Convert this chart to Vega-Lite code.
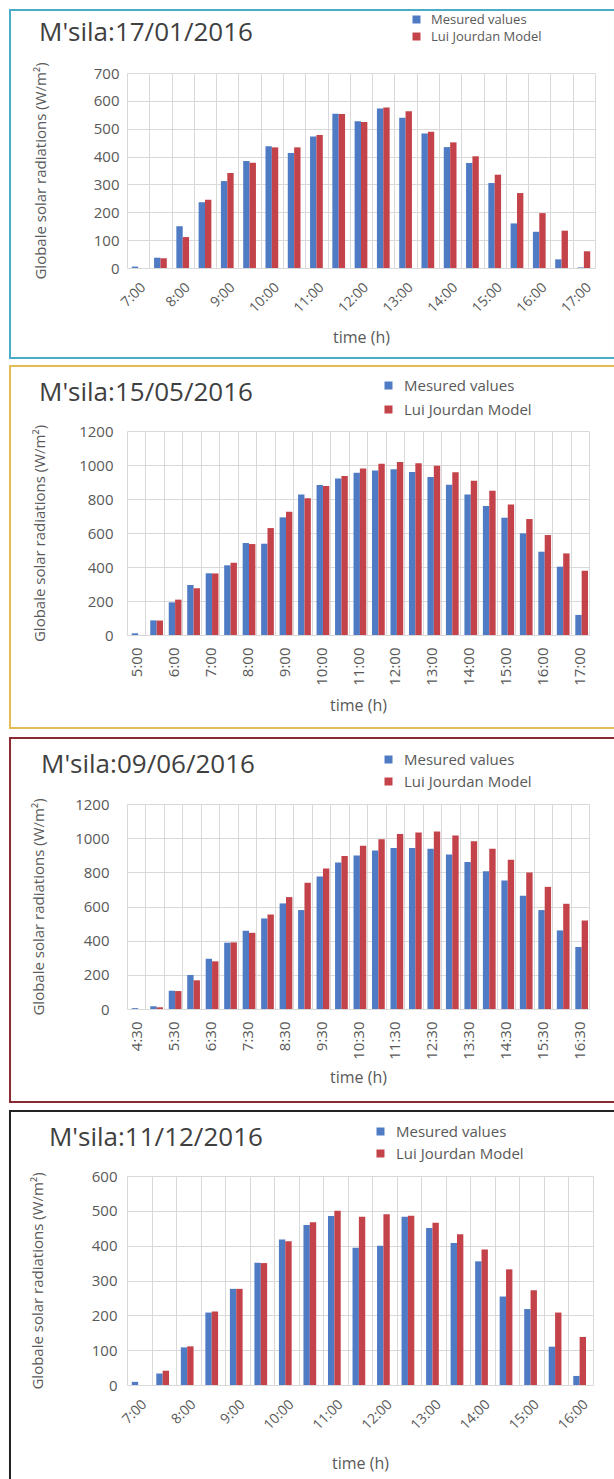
{
  "$schema": "https://vega.github.io/schema/vega-lite/v6.json",
  "background": "white",
  "padding": 8,
  "config": {
    "font": "Open Sans",
    "view": {"stroke": null},
    "title": {"font": "Open Sans", "fontWeight": "normal", "color": "#404040", "fontSize": 26, "anchor": "start", "frame": "bounds", "baseline": "alphabetic"},
    "axis": {"labelFont": "Open Sans", "titleFont": "Open Sans", "labelColor": "#595959", "titleColor": "#595959", "titleFontWeight": "normal", "gridColor": "#d9d9d9", "ticks": false, "domain": false, "labelFontSize": 14, "titleFontSize": 15, "labelOverlap": false},
    "axisX": {"titleFontSize": 16, "tickBand": "extent", "labelPadding": 12},
    "axisY": {"labelFontSize": 15},
    "legend": {"labelFont": "Open Sans", "labelColor": "#595959", "labelFontSize": 15, "symbolType": "square", "symbolSize": 64, "symbolStrokeWidth": 0, "padding": 0, "labelOffset": 8, "orient": "none", "title": null}
  },
  "datasets": {
    "p1": [
      {"t": "7:00", "measured": 5, "model": 0},
      {"t": "7:30", "measured": 37, "model": 35},
      {"t": "8:00", "measured": 150, "model": 111},
      {"t": "8:30", "measured": 236, "model": 245},
      {"t": "9:00", "measured": 312, "model": 341},
      {"t": "9:30", "measured": 384, "model": 378},
      {"t": "10:00", "measured": 437, "model": 433},
      {"t": "10:30", "measured": 413, "model": 433},
      {"t": "11:00", "measured": 472, "model": 477},
      {"t": "11:30", "measured": 554, "model": 553},
      {"t": "12:00", "measured": 527, "model": 524},
      {"t": "12:30", "measured": 573, "model": 576},
      {"t": "13:00", "measured": 539, "model": 563},
      {"t": "13:30", "measured": 483, "model": 489},
      {"t": "14:00", "measured": 434, "model": 451},
      {"t": "14:30", "measured": 377, "model": 401},
      {"t": "15:00", "measured": 305, "model": 335},
      {"t": "15:30", "measured": 160, "model": 269},
      {"t": "16:00", "measured": 130, "model": 197},
      {"t": "16:30", "measured": 31, "model": 134},
      {"t": "17:00", "measured": 2, "model": 60}
    ],
    "p2": [
      {"t": "5:00", "measured": 10, "model": 0},
      {"t": "5:30", "measured": 86, "model": 85},
      {"t": "6:00", "measured": 192, "model": 208},
      {"t": "6:30", "measured": 294, "model": 275},
      {"t": "7:00", "measured": 363, "model": 362},
      {"t": "7:30", "measured": 410, "model": 425},
      {"t": "8:00", "measured": 541, "model": 535},
      {"t": "8:30", "measured": 537, "model": 629},
      {"t": "9:00", "measured": 692, "model": 725},
      {"t": "9:30", "measured": 827, "model": 804},
      {"t": "10:00", "measured": 882, "model": 877},
      {"t": "10:30", "measured": 921, "model": 935},
      {"t": "11:00", "measured": 955, "model": 980},
      {"t": "11:30", "measured": 967, "model": 1008},
      {"t": "12:00", "measured": 975, "model": 1018},
      {"t": "12:30", "measured": 959, "model": 1010},
      {"t": "13:00", "measured": 929, "model": 996},
      {"t": "13:30", "measured": 884, "model": 957},
      {"t": "14:00", "measured": 827, "model": 908},
      {"t": "14:30", "measured": 759, "model": 849},
      {"t": "15:00", "measured": 690, "model": 767},
      {"t": "15:30", "measured": 598, "model": 682},
      {"t": "16:00", "measured": 490, "model": 588},
      {"t": "16:30", "measured": 402, "model": 480},
      {"t": "17:00", "measured": 118, "model": 378}
    ],
    "p3": [
      {"t": "4:30", "measured": 5, "model": 0},
      {"t": "5:00", "measured": 16, "model": 10},
      {"t": "5:30", "measured": 107, "model": 105},
      {"t": "6:00", "measured": 199, "model": 168},
      {"t": "6:30", "measured": 294, "model": 279},
      {"t": "7:00", "measured": 388, "model": 390},
      {"t": "7:30", "measured": 458, "model": 446},
      {"t": "8:00", "measured": 530, "model": 553},
      {"t": "8:30", "measured": 618, "model": 655},
      {"t": "9:00", "measured": 579, "model": 739},
      {"t": "9:30", "measured": 776, "model": 823},
      {"t": "10:00", "measured": 858, "model": 895},
      {"t": "10:30", "measured": 899, "model": 955},
      {"t": "11:00", "measured": 928, "model": 994},
      {"t": "11:30", "measured": 942, "model": 1025},
      {"t": "12:00", "measured": 943, "model": 1033},
      {"t": "12:30", "measured": 938, "model": 1039},
      {"t": "13:00", "measured": 905, "model": 1016},
      {"t": "13:30", "measured": 860, "model": 982},
      {"t": "14:00", "measured": 807, "model": 938},
      {"t": "14:30", "measured": 752, "model": 873},
      {"t": "15:00", "measured": 663, "model": 799},
      {"t": "15:30", "measured": 579, "model": 715},
      {"t": "16:00", "measured": 460, "model": 616},
      {"t": "16:30", "measured": 363, "model": 518}
    ],
    "p4": [
      {"t": "7:00", "measured": 9, "model": 0},
      {"t": "7:30", "measured": 33, "model": 41},
      {"t": "8:00", "measured": 108, "model": 111},
      {"t": "8:30", "measured": 208, "model": 211},
      {"t": "9:00", "measured": 276, "model": 276},
      {"t": "9:30", "measured": 351, "model": 350},
      {"t": "10:00", "measured": 418, "model": 413},
      {"t": "10:30", "measured": 459, "model": 467},
      {"t": "11:00", "measured": 485, "model": 500},
      {"t": "11:30", "measured": 394, "model": 483},
      {"t": "12:00", "measured": 400, "model": 490},
      {"t": "12:30", "measured": 483, "model": 486},
      {"t": "13:00", "measured": 451, "model": 466},
      {"t": "13:30", "measured": 408, "model": 433},
      {"t": "14:00", "measured": 355, "model": 389},
      {"t": "14:30", "measured": 254, "model": 332},
      {"t": "15:00", "measured": 218, "model": 272},
      {"t": "15:30", "measured": 110, "model": 208},
      {"t": "16:00", "measured": 26, "model": 138}
    ]
  },
  "resolve": {"scale": {"color": "independent"}},
  "spacing": 6,
  "vconcat": [
    {
      "width": 468, "height": 195,
      "title": {"text": "M'sila:17/01/2016", "offset": -37, "dx": 30},
      "resolve": {"scale": {"x": "independent", "y": "independent"}},
      "layer": [
        {
          "data": {"values": [{}]},
          "mark": {"type": "rect", "fillOpacity": 0, "stroke": "#4bacc6", "strokeWidth": 2, "clip": false},
          "encoding": {
            "x": {"datum": -0.25, "type": "quantitative", "scale": {"domain": [0, 1], "nice": false, "zero": false}, "axis": null},
            "x2": {"datum": 1.0427},
            "y": {"datum": -0.4615, "type": "quantitative", "scale": {"domain": [0, 1], "nice": false, "zero": false}, "axis": null},
            "y2": {"datum": 1.3231}
          }
        },
        {
          "data": {"name": "p1"},
          "transform": [{"fold": ["measured", "model"], "as": ["series", "value"]}],
          "mark": {"type": "bar"},
          "encoding": {
            "x": {"field": "t", "type": "nominal", "sort": null,
              "scale": {"paddingInner": 0, "paddingOuter": 0},
              "axis": {"title": "time (h)", "labelAngle": -45, "titlePadding": 14, "grid": true,
                "labelExpr": "indexof('' + datum.label, ':30') >= 0 ? '' : datum.label"}},
            "xOffset": {"field": "series", "type": "nominal", "scale": {"domain": ["measured", "model"], "paddingOuter": 0.75}},
            "y": {"field": "value", "type": "quantitative",
              "scale": {"domain": [0, 700], "nice": false},
              "axis": {"title": "Globale solar radiations (W/m²)", "values": [0, 100, 200, 300, 400, 500, 600, 700], "format": "d", "grid": true, "labelPadding": 8, "titlePadding": 45}},
            "color": {"field": "series", "type": "nominal",
              "scale": {"domain": ["measured", "model"], "range": ["#4f7bc4", "#c4424a"]},
              "legend": {"legendX": 283, "legendY": -60, "rowPadding": 3, "labelFontSize": 13,
                "labelExpr": "datum.label == 'measured' ? 'Mesured values' : 'Lui Jourdan Model'"}}
          }
        }
      ]
    },
    {
      "width": 462, "height": 204,
      "title": {"text": "M'sila:15/05/2016", "offset": -41, "dx": 30},
      "resolve": {"scale": {"x": "independent", "y": "independent"}},
      "layer": [
        {
          "data": {"values": [{}]},
          "mark": {"type": "rect", "fillOpacity": 0, "stroke": "#e3bc55", "strokeWidth": 2, "clip": false},
          "encoding": {
            "x": {"datum": -0.2532, "type": "quantitative", "scale": {"domain": [0, 1], "nice": false, "zero": false}, "axis": null},
            "x2": {"datum": 1.0563},
            "y": {"datum": -0.4559, "type": "quantitative", "scale": {"domain": [0, 1], "nice": false, "zero": false}, "axis": null},
            "y2": {"datum": 1.3186}
          }
        },
        {
          "data": {"name": "p2"},
          "transform": [{"fold": ["measured", "model"], "as": ["series", "value"]}],
          "mark": {"type": "bar"},
          "encoding": {
            "x": {"field": "t", "type": "nominal", "sort": null,
              "scale": {"paddingInner": 0, "paddingOuter": 0},
              "axis": {"title": "time (h)", "labelAngle": -90, "titlePadding": 12, "labelFontSize": 15, "grid": true,
                "labelExpr": "indexof('' + datum.label, ':30') >= 0 ? '' : datum.label"}},
            "xOffset": {"field": "series", "type": "nominal", "scale": {"domain": ["measured", "model"], "paddingOuter": 0.5}},
            "y": {"field": "value", "type": "quantitative",
              "scale": {"domain": [0, 1200], "nice": false},
              "axis": {"title": "Globale solar radiations (W/m²)", "values": [0, 200, 400, 600, 800, 1000, 1200], "format": "d", "grid": true, "labelPadding": 14, "titlePadding": 31}},
            "color": {"field": "series", "type": "nominal",
              "scale": {"domain": ["measured", "model"], "range": ["#4f7bc4", "#c4424a"]},
              "legend": {"legendX": 254, "legendY": -53, "rowPadding": 8,
                "labelExpr": "datum.label == 'measured' ? 'Mesured values' : 'Lui Jourdan Model'"}}
          }
        }
      ]
    },
    {
      "width": 462, "height": 205,
      "title": {"text": "M'sila:09/06/2016", "offset": -41, "dx": 32},
      "resolve": {"scale": {"x": "independent", "y": "independent"}},
      "layer": [
        {
          "data": {"values": [{}]},
          "mark": {"type": "rect", "fillOpacity": 0, "stroke": "#8c2a33", "strokeWidth": 2, "clip": false},
          "encoding": {
            "x": {"datum": -0.2532, "type": "quantitative", "scale": {"domain": [0, 1], "nice": false, "zero": false}, "axis": null},
            "x2": {"datum": 1.0563},
            "y": {"datum": -0.4537, "type": "quantitative", "scale": {"domain": [0, 1], "nice": false, "zero": false}, "axis": null},
            "y2": {"datum": 1.322}
          }
        },
        {
          "data": {"name": "p3"},
          "transform": [{"fold": ["measured", "model"], "as": ["series", "value"]}],
          "mark": {"type": "bar"},
          "encoding": {
            "x": {"field": "t", "type": "nominal", "sort": null,
              "scale": {"paddingInner": 0, "paddingOuter": 0},
              "axis": {"title": "time (h)", "labelAngle": -90, "titlePadding": 10, "labelFontSize": 15, "grid": true,
                "labelExpr": "indexof('' + datum.label, ':00') >= 0 ? '' : datum.label"}},
            "xOffset": {"field": "series", "type": "nominal", "scale": {"domain": ["measured", "model"], "paddingOuter": 0.5}},
            "y": {"field": "value", "type": "quantitative",
              "scale": {"domain": [0, 1200], "nice": false},
              "axis": {"title": "Globale solar radiations (W/m²)", "values": [0, 200, 400, 600, 800, 1000, 1200], "format": "d", "grid": true, "labelPadding": 18, "titlePadding": 28}},
            "color": {"field": "series", "type": "nominal",
              "scale": {"domain": ["measured", "model"], "range": ["#4f7bc4", "#c4424a"]},
              "legend": {"legendX": 254, "legendY": -52, "rowPadding": 6,
                "labelExpr": "datum.label == 'measured' ? 'Mesured values' : 'Lui Jourdan Model'"}}
          }
        }
      ]
    },
    {
      "width": 466, "height": 209,
      "title": {"text": "M'sila:11/12/2016", "offset": -41, "dx": 40},
      "resolve": {"scale": {"x": "independent", "y": "independent"}},
      "layer": [
        {
          "data": {"values": [{}]},
          "mark": {"type": "rect", "fillOpacity": 0, "stroke": "#222222", "strokeWidth": 2, "clip": false},
          "encoding": {
            "x": {"datum": -0.2511, "type": "quantitative", "scale": {"domain": [0, 1], "nice": false, "zero": false}, "axis": null},
            "x2": {"datum": 1.0579},
            "y": {"datum": -0.4689, "type": "quantitative", "scale": {"domain": [0, 1], "nice": false, "zero": false}, "axis": null},
            "y2": {"datum": 1.311}
          }
        },
        {
          "data": {"name": "p4"},
          "transform": [{"fold": ["measured", "model"], "as": ["series", "value"]}],
          "mark": {"type": "bar"},
          "encoding": {
            "x": {"field": "t", "type": "nominal", "sort": null,
              "scale": {"paddingInner": 0, "paddingOuter": 0},
              "axis": {"title": "time (h)", "labelAngle": -45, "titlePadding": 23, "grid": true,
                "labelExpr": "indexof('' + datum.label, ':30') >= 0 ? '' : datum.label"}},
            "xOffset": {"field": "series", "type": "nominal", "scale": {"domain": ["measured", "model"], "paddingOuter": 0.6}},
            "y": {"field": "value", "type": "quantitative",
              "scale": {"domain": [0, 600], "nice": false},
              "axis": {"title": "Globale solar radiations (W/m²)", "values": [0, 100, 200, 300, 400, 500, 600], "format": "d", "grid": true, "labelPadding": 10, "titlePadding": 46}},
            "color": {"field": "series", "type": "nominal",
              "scale": {"domain": ["measured", "model"], "range": ["#4f7bc4", "#c4424a"]},
              "legend": {"legendX": 246, "legendY": -52, "rowPadding": 6,
                "labelExpr": "datum.label == 'measured' ? 'Mesured values' : 'Lui Jourdan Model'"}}
          }
        }
      ]
    }
  ]
}
